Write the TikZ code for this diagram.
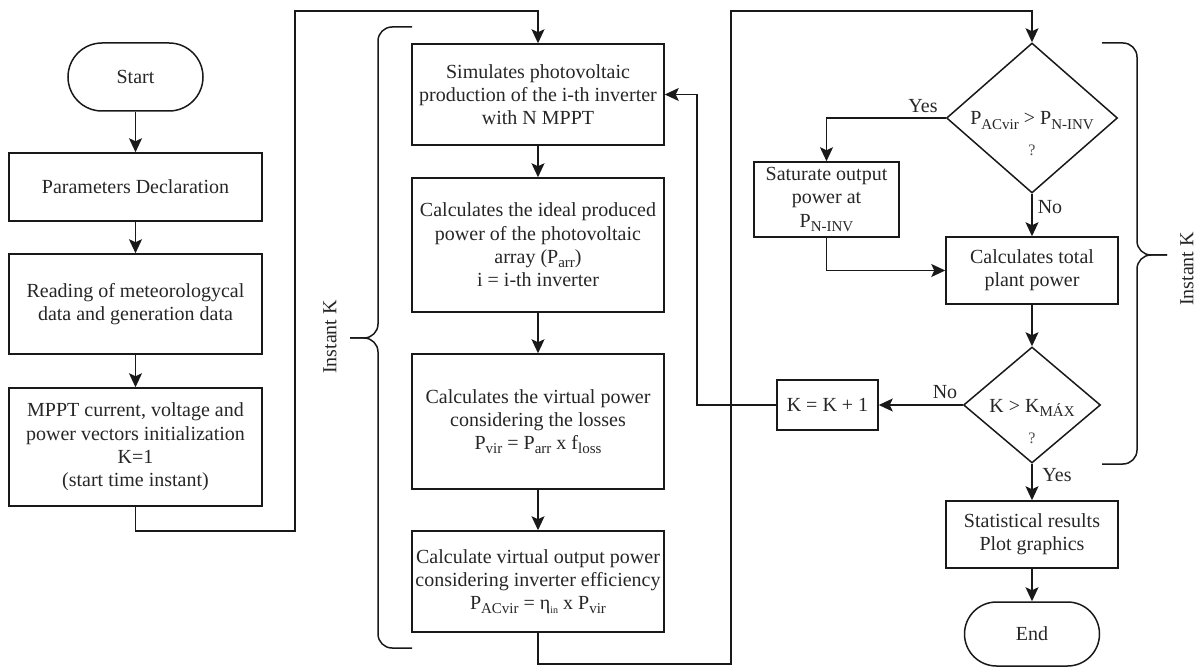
\documentclass[tikz,border=0pt]{standalone}
\usepackage{fontspec}
\setmainfont{Liberation Serif}
\usetikzlibrary{arrows.meta,shapes.geometric}
\newcommand{\sbx}[1]{\raisebox{-0.45ex}{\fontsize{15}{15}\selectfont #1}}
\newcommand{\sby}[1]{\raisebox{-0.45ex}{\fontsize{10}{10}\selectfont #1}}
\tikzset{
  base/.style={line width=1.5pt, draw=black!90},
  txt/.style={font=\fontsize{20}{23.3}\selectfont, inner sep=1pt, align=center, text=black!85},
  box/.style={base, txt, rectangle},
  term/.style={base, txt, rectangle, rounded corners=#1},
  dec/.style={base, diamond, inner sep=0pt},
  qm/.style={font=\fontsize{16}{16}\selectfont, inner sep=0pt, text=black!70},
  arr/.style={line width=1.5pt, draw=black!90, -{Stealth[length=14pt,width=13pt,inset=3pt]}},
  brc/.style={line width=1.5pt, draw=black!90, rounded corners=14pt},
}
\begin{document}
\begin{tikzpicture}[x=1pt,y=-1pt]
\useasboundingbox (0,0) rectangle (1200,668);
% left column
\node[term=34pt, minimum width=135pt, minimum height=68pt] (start) at (135.5,77) {Start};
\node[box, minimum width=253pt, minimum height=68pt] (params) at (135.5,187) {Parameters Declaration};
\node[box, minimum width=253pt, minimum height=100pt] (read) at (135.5,304) {Reading of meteorologycal\\data and generation data};
\node[box, minimum width=253pt, minimum height=118pt] (mppt) at (135.5,447) {MPPT current, voltage and\\power vectors initialization\\K=1\\(start time instant)};
% middle column
\node[box, minimum width=252pt, minimum height=101pt] (sim) at (538,94.5) {Simulates photovoltaic\\production of the i-th inverter\\with N MPPT};
\node[box, minimum width=252pt, minimum height=134pt] (ideal) at (538,245) {Calculates the ideal produced\\power of the photovoltaic\\array (P\sbx{arr})\\i = i-th inverter};
\node[box, minimum width=252pt, minimum height=135pt] (virt) at (538,421.5) {Calculates the virtual power\\considering the losses\\P\sbx{vir} = P\sbx{arr} x f\sbx{loss}};
\node[box, minimum width=252pt, minimum height=101pt] (out) at (538,581.5) {Calculate virtual output power\\considering inverter efficiency\\P\sbx{ACvir} = η\sby{in} x P\sbx{vir}};
% right column
\node[dec, minimum width=171pt, minimum height=150pt] (d1) at (1032,118) {};
\node[txt, anchor=base] (d1t) at (1032,125) {P\sbx{ACvir} > P\sbx{N-INV}};
\node[qm, anchor=base] (d1q) at (1032,156) {?};
\node[box, minimum width=145pt, minimum height=75pt] (sat) at (826.5,199.5) {Saturate output\\power at\\P\sbx{N-INV}};
\node[box, minimum width=172pt, minimum height=67pt] (total) at (1032,270.5) {Calculates total\\plant power};
\node[dec, minimum width=137pt, minimum height=116pt] (d2) at (1032,405) {};
\node[txt, anchor=base] (d2t) at (1032,412) {K > K\sbx{MÁX}};
\node[qm, anchor=base] (d2q) at (1032,443) {?};
\node[box, minimum width=101pt, minimum height=50pt] (kk) at (827.5,405) {K = K + 1};
\node[box, minimum width=172pt, minimum height=67pt] (stat) at (1032,534.5) {Statistical results\\Plot graphics};
\node[term=32pt, minimum width=135pt, minimum height=64pt] (end) at (1032,634) {End};
% labels
\node[txt] (yes1) at (923,106) {Yes};
\node[txt] (no1) at (1050,207) {No};
\node[txt] (no2) at (945,392) {No};
\node[txt] (yes2) at (1057,475) {Yes};
\node[txt, rotate=90] (ik1) at (330,337) {Instant K};
\node[txt, rotate=90] (ik2) at (1187,269) {Instant K};
% waypoints
\coordinate (j1) at (295,531);
\coordinate (j2) at (295,11);
\coordinate (j3) at (731,664);
\coordinate (j4) at (731,11);
\coordinate (j5) at (697,94.5);
% connectors
\draw[arr] (start) -- (params);
\draw[arr] (params) -- (read);
\draw[arr] (read) -- (mppt);
\draw[arr] (mppt.south) |- (j1) -- (j2) -| (sim.north);
\draw[arr] (sim) -- (ideal);
\draw[arr] (ideal) -- (virt);
\draw[arr] (virt) -- (out);
\draw[arr] (out.south) |- (j3) -- (j4) -| (d1.north);
\draw[arr] (d1.west) -| (sat.north);
\draw[arr] (d1.south) -- (total.north);
\draw[arr] (sat.south) |- (total.west);
\draw[arr] (total.south) -- (d2.north);
\draw[arr] (d2.west) -- (kk.east);
\draw[arr] (d2.south) -- (stat.north);
\draw[arr] (stat.south) -- (end.north);
\draw[arr] (kk.west) -| (j5) -- (sim.east);
% braces
\draw[brc] (412,27) -- (378,27) -- (378,338) -- (350,338);
\draw[brc] (412,648) -- (378,648) -- (378,338) -- (350,338);
\draw[brc] (1102,43) -- (1137,43) -- (1137,255) -- (1167,255);
\draw[brc] (1102,464) -- (1137,464) -- (1137,255) -- (1167,255);
\end{tikzpicture}
\end{document}
